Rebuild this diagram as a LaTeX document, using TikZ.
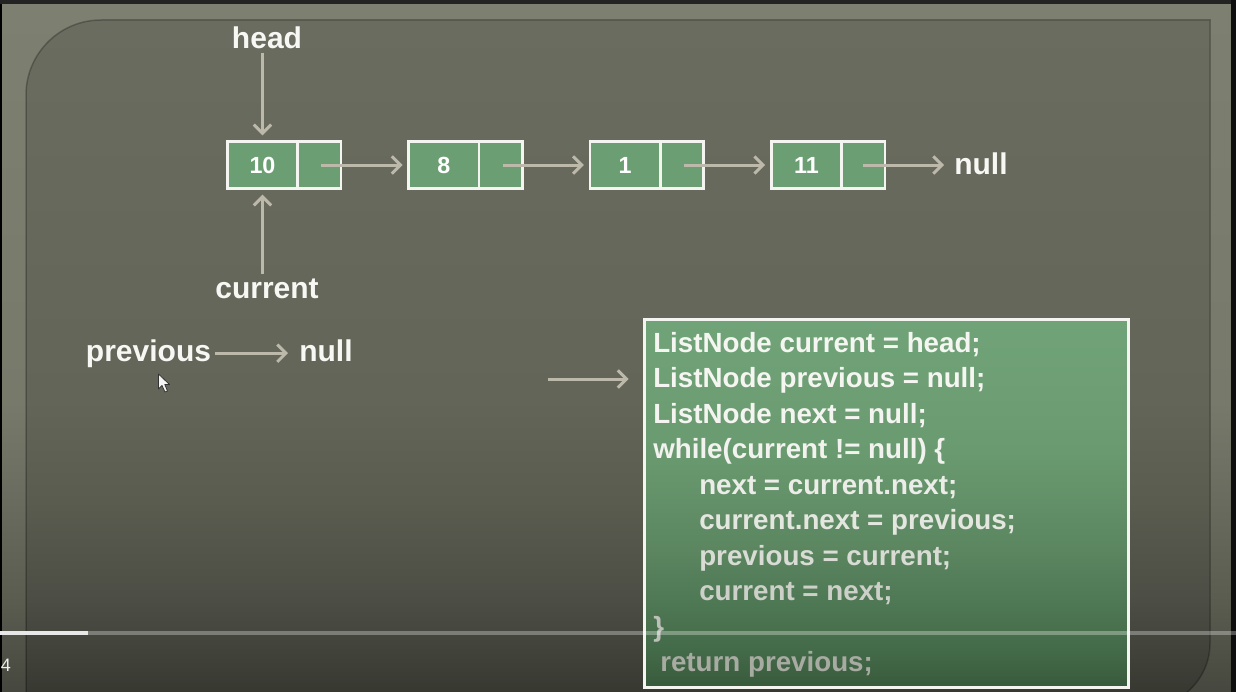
\documentclass[tikz,border=0pt]{standalone}
\usepackage{fontspec}
\setmainfont{Liberation Sans}
\usetikzlibrary{arrows.meta}

% one unit = one screen pixel
\newlength\pxu
\setlength\pxu{0.75pt}

\definecolor{topbar}{HTML}{232323}
\definecolor{rightbar}{HTML}{0E0E0E}
\definecolor{frameA}{HTML}{7D8071}
\definecolor{frameB}{HTML}{777A6B}
\definecolor{frameC}{HTML}{5A5C50}
\definecolor{frameD}{HTML}{46473E}
\definecolor{panelA}{HTML}{6A6C60}
\definecolor{panelB}{HTML}{636559}
\definecolor{panelC}{HTML}{5A5C50}
\definecolor{panelD}{HTML}{4C4D44}
\definecolor{panelE}{HTML}{3D3E36}
\definecolor{panelF}{HTML}{33342D}
\definecolor{codeA}{HTML}{71A379}
\definecolor{codeB}{HTML}{6A9A70}
\definecolor{codeC}{HTML}{5B8660}
\definecolor{codeD}{HTML}{446B49}
\definecolor{codeE}{HTML}{385A3C}
\definecolor{cellgreen}{HTML}{6B9F73}
\definecolor{cellborder}{HTML}{F4F4F0}
\definecolor{arrowgray}{HTML}{BCB8AA}
\definecolor{labelwhite}{HTML}{F7F7F3}

% vertical fades; the path's own height spans 25bp (bottom) to 75bp (top)
\pgfdeclareverticalshading{framefade}{100bp}{color(0bp)=(frameD); color(25bp)=(frameD); color(31.5bp)=(frameC); color(46bp)=(frameB); color(75bp)=(frameA); color(100bp)=(frameA)}
\pgfdeclareverticalshading{panelfade}{100bp}{color(0bp)=(panelF); color(25bp)=(panelF); color(27.7bp)=(panelE); color(32.8bp)=(panelD); color(40bp)=(panelC); color(47.35bp)=(panelB); color(75bp)=(panelA); color(100bp)=(panelA)}
\pgfdeclareverticalshading{codefade}{100bp}{color(0bp)=(codeE); color(25bp)=(codeE); color(30.25bp)=(codeD); color(43.75bp)=(codeC); color(57bp)=(codeB); color(75bp)=(codeA); color(100bp)=(codeA)}

\begin{document}
\begin{tikzpicture}[x=\pxu, y=-\pxu,
  lbl/.style={text=labelwhite, inner sep=0pt, font=\fontsize{22.5pt}{26pt}\selectfont\bfseries},
  cell/.style={draw=cellborder, line width=2.7\pxu, fill=cellgreen,
    minimum height=47.3\pxu, inner sep=0pt, outer sep=0pt},
  valcell/.style={cell, minimum width=70.4\pxu, text=white,
    font=\fontsize{17.5pt}{19pt}\selectfont\bfseries},
  ptrcell/.style={cell, minimum width=43.3\pxu},
  link/.style={draw=arrowgray, line width=3\pxu,
    -{Straight Barb[length=6.5pt,width=13pt]}},
  codebox/.style={draw=cellborder, line width=3\pxu, shade, shading=codefade,
    minimum width=484\pxu, minimum height=368\pxu, inner sep=0pt, outer sep=0pt},
  codeline/.style={anchor=base west, inner sep=0pt,
    font=\fontsize{20.8pt}{24pt}\selectfont\bfseries},
]
\useasboundingbox (0,0) rectangle (1236,692);
\clip (0,0) rectangle (1236,692);

% slide backdrop and frame
\shade[shading=framefade] (0,0) rectangle (1236,692);
\fill[topbar] (0,0) rectangle (1236,4);
\fill[black] (0,4) rectangle (2,692);
\fill[rightbar] (1231,0) rectangle (1236,692);

% inner panel with rounded top-left and bottom-right corners
\shadedraw[shading=panelfade, draw=black, draw opacity=0.25, line width=1.5\pxu]
  (26,707) -- (26,95) .. controls (26,53.6) and (59.6,20) .. (101,20)
  -- (1210,20) -- (1210,643) .. controls (1210,678.4) and (1181.4,707) .. (1146,707)
  -- cycle;

% linked list
\foreach \k/\cx/\val in {1/262.5/10, 2/443.8/8, 3/625.1/1, 4/806.4/11} {
  \node[valcell] (v\k) at (\cx,165) {\val};
  \node[ptrcell, anchor=west] (p\k) at (v\k.east) {};
}
\foreach \from/\to in {1/2, 2/3, 3/4}
  \draw[link, shorten <=2\pxu, shorten >=6\pxu] (p\from.center) -- (v\to.west);

\node[lbl, anchor=base west] (nullA) at (954,175) {null};
\draw[link, shorten >=10\pxu] (p4.center) -- (p4.center -| nullA.west);

\node[lbl, anchor=base] (head) at (267,49) {head};
\draw[link, shorten <=3\pxu, shorten >=6\pxu] (v1.north |- head.south) -- (v1.north);

\node[lbl, anchor=base] (current) at (267,298) {current};
\draw[link, shorten <=4\pxu, shorten >=6\pxu] (v1.south |- current.north) -- (v1.south);

\node[lbl, anchor=base] (prev) at (148.5,361) {previous};
\node[lbl, anchor=base west] (nullB) at (299,361) {null};
\draw[link, shorten <=4\pxu, shorten >=11\pxu] (prev.east) -- (nullB.west |- prev.east);

% code panel
\node[codebox] (code) at (886.5,503.5) {};
\foreach \i/\xx/\yy/\col/\txt in {
  1/653/352/F5F5F1/{ListNode current = head;},
  2/653/387.5/F5F5F1/{ListNode previous = null;},
  3/653/423/F4F4F0/{ListNode next = null;},
  4/653/458.5/F2F2EE/{while(current != null) \{},
  5/699/494/ECEDE8/{next = current.next;},
  6/699/529.5/E4E6E0/{current.next = previous;},
  7/699/565/D9DCD5/{previous = current;},
  8/699/600.5/CCD0C8/{current = next;},
  9/653/636/BCC0B8/{\}},
  10/660/671.5/A7ABA2/{return previous;}} {
  \definecolor{linecol}{HTML}{\col}
  \node[codeline, text=linecol] (l\i) at (\xx,\yy) {\txt};
}
\coordinate (pcstart) at (548,379);
\draw[link, shorten >=16\pxu] (pcstart) -- (code.west |- pcstart);

% mouse pointer
\filldraw[fill=white!92!gray, draw=black!80, line width=0.8\pxu, line join=round]
  (158.5,374) -- (158.5,389) -- (162,385.5) -- (165,392) -- (167.5,391)
  -- (164.8,384.5) -- (169.5,384.5) -- cycle;

% player progress bar and time
\fill[white, opacity=0.3] (88,631) rectangle (1236,634.5);
\fill[white!82!gray] (0,631) rectangle (88,634.5);
\node[anchor=base west, inner sep=0pt, text=white!85!gray,
  font=\fontsize{13.5pt}{15pt}\selectfont] (timecode) at (0.5,671) {4};
\end{tikzpicture}
\end{document}
